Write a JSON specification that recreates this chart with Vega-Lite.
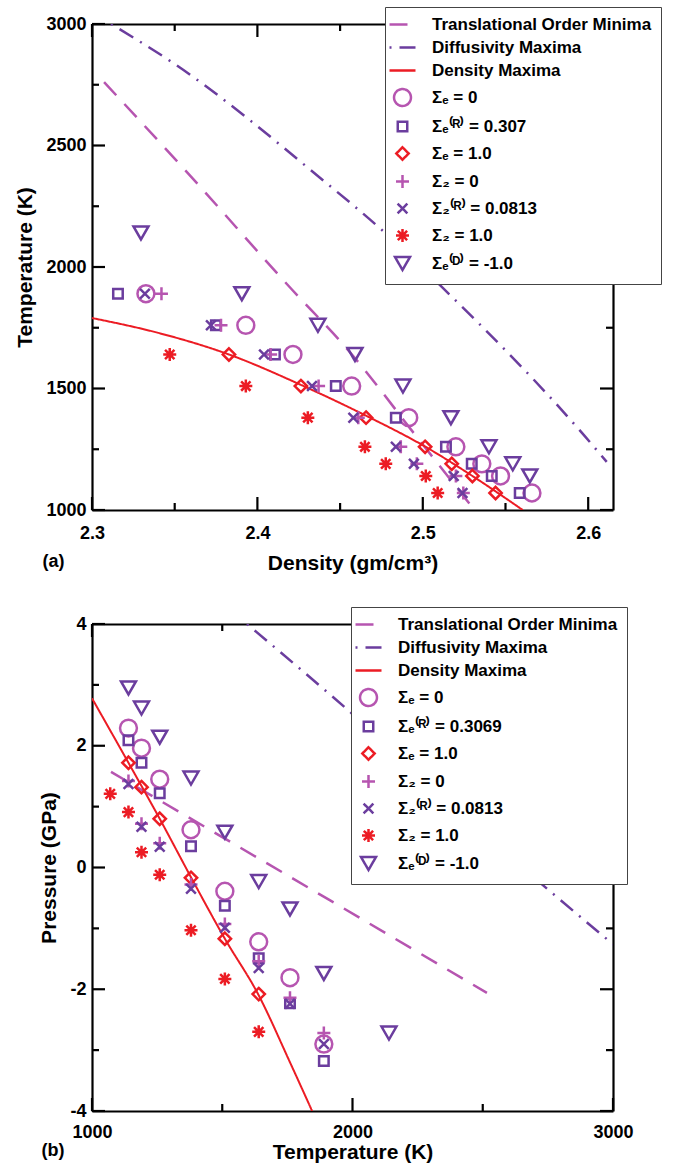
{
"$schema": "https://vega.github.io/schema/vega-lite/v6.json",
"background": "white",
"padding": {"left": 14, "top": 6, "right": 4, "bottom": 2},
"spacing": 33,
"datasets": {
"la": [
{"series":"Translational Order Minima","density":2.3073,"temperature":2761},
{"series":"Translational Order Minima","density":2.36,"temperature":2371},
{"series":"Translational Order Minima","density":2.4178,"temperature":1930},
{"series":"Translational Order Minima","density":2.4565,"temperature":1645},
{"series":"Translational Order Minima","density":2.4976,"temperature":1290},
{"series":"Translational Order Minima","density":2.5308,"temperature":1004},
{"series":"Diffusivity Maxima","density":2.3115,"temperature":3000},
{"series":"Diffusivity Maxima","density":2.3483,"temperature":2843},
{"series":"Diffusivity Maxima","density":2.4402,"temperature":2354},
{"series":"Diffusivity Maxima","density":2.474,"temperature":2160},
{"series":"Diffusivity Maxima","density":2.5115,"temperature":1918},
{"series":"Diffusivity Maxima","density":2.5973,"temperature":1309},
{"series":"Diffusivity Maxima","density":2.6112,"temperature":1198},
{"series":"Density Maxima","density":2.3,"temperature":1790},
{"series":"Density Maxima","density":2.34,"temperature":1729},
{"series":"Density Maxima","density":2.3828,"temperature":1640},
{"series":"Density Maxima","density":2.4263,"temperature":1515},
{"series":"Density Maxima","density":2.4657,"temperature":1388},
{"series":"Density Maxima","density":2.5014,"temperature":1261},
{"series":"Density Maxima","density":2.53,"temperature":1140},
{"series":"Density Maxima","density":2.5604,"temperature":1000}
],
"pa": [
{"series":"Σₑ = 0","density":2.3326,"temperature":1890},
{"series":"Σₑ = 0","density":2.393,"temperature":1760},
{"series":"Σₑ = 0","density":2.4215,"temperature":1640},
{"series":"Σₑ = 0","density":2.457,"temperature":1510},
{"series":"Σₑ = 0","density":2.4915,"temperature":1380},
{"series":"Σₑ = 0","density":2.52,"temperature":1260},
{"series":"Σₑ = 0","density":2.5357,"temperature":1190},
{"series":"Σₑ = 0","density":2.547,"temperature":1140},
{"series":"Σₑ = 0","density":2.566,"temperature":1070},
{"series":"Σₑ⁽ᴿ⁾ = 0.307","density":2.3157,"temperature":1890},
{"series":"Σₑ⁽ᴿ⁾ = 0.307","density":2.3749,"temperature":1760},
{"series":"Σₑ⁽ᴿ⁾ = 0.307","density":2.4106,"temperature":1640},
{"series":"Σₑ⁽ᴿ⁾ = 0.307","density":2.4474,"temperature":1510},
{"series":"Σₑ⁽ᴿ⁾ = 0.307","density":2.4837,"temperature":1380},
{"series":"Σₑ⁽ᴿ⁾ = 0.307","density":2.514,"temperature":1260},
{"series":"Σₑ⁽ᴿ⁾ = 0.307","density":2.5296,"temperature":1190},
{"series":"Σₑ⁽ᴿ⁾ = 0.307","density":2.5417,"temperature":1140},
{"series":"Σₑ⁽ᴿ⁾ = 0.307","density":2.5586,"temperature":1070},
{"series":"Σₑ = 1.0","density":2.3828,"temperature":1640},
{"series":"Σₑ = 1.0","density":2.4263,"temperature":1510},
{"series":"Σₑ = 1.0","density":2.4657,"temperature":1380},
{"series":"Σₑ = 1.0","density":2.5014,"temperature":1260},
{"series":"Σₑ = 1.0","density":2.5175,"temperature":1190},
{"series":"Σₑ = 1.0","density":2.53,"temperature":1140},
{"series":"Σₑ = 1.0","density":2.544,"temperature":1070},
{"series":"Σ₂ = 0","density":2.342,"temperature":1890},
{"series":"Σ₂ = 0","density":2.378,"temperature":1760},
{"series":"Σ₂ = 0","density":2.408,"temperature":1640},
{"series":"Σ₂ = 0","density":2.437,"temperature":1510},
{"series":"Σ₂ = 0","density":2.461,"temperature":1380},
{"series":"Σ₂ = 0","density":2.4867,"temperature":1260},
{"series":"Σ₂ = 0","density":2.4964,"temperature":1190},
{"series":"Σ₂ = 0","density":2.52,"temperature":1140},
{"series":"Σ₂ = 0","density":2.5245,"temperature":1070},
{"series":"Σ₂⁽ᴿ⁾ = 0.0813","density":2.332,"temperature":1890},
{"series":"Σ₂⁽ᴿ⁾ = 0.0813","density":2.3719,"temperature":1760},
{"series":"Σ₂⁽ᴿ⁾ = 0.0813","density":2.404,"temperature":1640},
{"series":"Σ₂⁽ᴿ⁾ = 0.0813","density":2.433,"temperature":1510},
{"series":"Σ₂⁽ᴿ⁾ = 0.0813","density":2.458,"temperature":1380},
{"series":"Σ₂⁽ᴿ⁾ = 0.0813","density":2.4837,"temperature":1260},
{"series":"Σ₂⁽ᴿ⁾ = 0.0813","density":2.4946,"temperature":1190},
{"series":"Σ₂⁽ᴿ⁾ = 0.0813","density":2.5187,"temperature":1140},
{"series":"Σ₂⁽ᴿ⁾ = 0.0813","density":2.524,"temperature":1070},
{"series":"Σ₂ = 1.0","density":2.347,"temperature":1640},
{"series":"Σ₂ = 1.0","density":2.393,"temperature":1510},
{"series":"Σ₂ = 1.0","density":2.4305,"temperature":1380},
{"series":"Σ₂ = 1.0","density":2.465,"temperature":1260},
{"series":"Σ₂ = 1.0","density":2.4776,"temperature":1190},
{"series":"Σ₂ = 1.0","density":2.5018,"temperature":1140},
{"series":"Σ₂ = 1.0","density":2.509,"temperature":1070},
{"series":"Σₑ⁽ᴰ⁾ = -1.0","density":2.3296,"temperature":2140},
{"series":"Σₑ⁽ᴰ⁾ = -1.0","density":2.3906,"temperature":1890},
{"series":"Σₑ⁽ᴰ⁾ = -1.0","density":2.4366,"temperature":1760},
{"series":"Σₑ⁽ᴰ⁾ = -1.0","density":2.459,"temperature":1640},
{"series":"Σₑ⁽ᴰ⁾ = -1.0","density":2.488,"temperature":1510},
{"series":"Σₑ⁽ᴰ⁾ = -1.0","density":2.517,"temperature":1380},
{"series":"Σₑ⁽ᴰ⁾ = -1.0","density":2.54,"temperature":1260},
{"series":"Σₑ⁽ᴰ⁾ = -1.0","density":2.5544,"temperature":1190},
{"series":"Σₑ⁽ᴰ⁾ = -1.0","density":2.5647,"temperature":1140}
],
"ta_xmaj": [{"density":2.3},{"density":2.4},{"density":2.5},{"density":2.6}],
"ta_xmin": [{"density":2.35},{"density":2.45},{"density":2.55}],
"ta_ymaj": [{"temperature":1000},{"temperature":1500},{"temperature":2000},{"temperature":2500},{"temperature":3000}],
"ta_ymin": [{"temperature":1250},{"temperature":1750},{"temperature":2250},{"temperature":2750}],
"lb": [
{"series":"Translational Order Minima","temperature":1073,"pressure":1.57},
{"series":"Translational Order Minima","temperature":1500,"pressure":0.5},
{"series":"Translational Order Minima","temperature":1906,"pressure":-0.52},
{"series":"Translational Order Minima","temperature":2516,"pressure":-2.06},
{"series":"Diffusivity Maxima","temperature":1595,"pressure":4.0},
{"series":"Diffusivity Maxima","temperature":1925,"pressure":2.8},
{"series":"Diffusivity Maxima","temperature":2750,"pressure":-0.36},
{"series":"Diffusivity Maxima","temperature":3000,"pressure":-1.26},
{"series":"Density Maxima","temperature":1000,"pressure":2.78},
{"series":"Density Maxima","temperature":1140,"pressure":1.72},
{"series":"Density Maxima","temperature":1260,"pressure":0.8},
{"series":"Density Maxima","temperature":1380,"pressure":-0.16},
{"series":"Density Maxima","temperature":1510,"pressure":-1.17},
{"series":"Density Maxima","temperature":1640,"pressure":-2.1},
{"series":"Density Maxima","temperature":1760,"pressure":-3.2},
{"series":"Density Maxima","temperature":1845,"pressure":-4.0}
],
"pb": [
{"series":"Σₑ = 0","temperature":1140,"pressure":2.29},
{"series":"Σₑ = 0","temperature":1190,"pressure":1.96},
{"series":"Σₑ = 0","temperature":1260,"pressure":1.45},
{"series":"Σₑ = 0","temperature":1380,"pressure":0.62},
{"series":"Σₑ = 0","temperature":1510,"pressure":-0.39},
{"series":"Σₑ = 0","temperature":1640,"pressure":-1.22},
{"series":"Σₑ = 0","temperature":1760,"pressure":-1.81},
{"series":"Σₑ = 0","temperature":1890,"pressure":-2.9},
{"series":"Σₑ⁽ᴿ⁾ = 0.3069","temperature":1140,"pressure":2.09},
{"series":"Σₑ⁽ᴿ⁾ = 0.3069","temperature":1190,"pressure":1.72},
{"series":"Σₑ⁽ᴿ⁾ = 0.3069","temperature":1260,"pressure":1.22},
{"series":"Σₑ⁽ᴿ⁾ = 0.3069","temperature":1380,"pressure":0.35},
{"series":"Σₑ⁽ᴿ⁾ = 0.3069","temperature":1510,"pressure":-0.63},
{"series":"Σₑ⁽ᴿ⁾ = 0.3069","temperature":1640,"pressure":-1.49},
{"series":"Σₑ⁽ᴿ⁾ = 0.3069","temperature":1760,"pressure":-2.23},
{"series":"Σₑ⁽ᴿ⁾ = 0.3069","temperature":1890,"pressure":-3.18},
{"series":"Σₑ = 1.0","temperature":1140,"pressure":1.72},
{"series":"Σₑ = 1.0","temperature":1190,"pressure":1.32},
{"series":"Σₑ = 1.0","temperature":1260,"pressure":0.8},
{"series":"Σₑ = 1.0","temperature":1380,"pressure":-0.17},
{"series":"Σₑ = 1.0","temperature":1510,"pressure":-1.17},
{"series":"Σₑ = 1.0","temperature":1640,"pressure":-2.08},
{"series":"Σ₂ = 0","temperature":1140,"pressure":1.42},
{"series":"Σ₂ = 0","temperature":1190,"pressure":0.72},
{"series":"Σ₂ = 0","temperature":1260,"pressure":0.4},
{"series":"Σ₂ = 0","temperature":1380,"pressure":-0.28},
{"series":"Σ₂ = 0","temperature":1510,"pressure":-0.93},
{"series":"Σ₂ = 0","temperature":1640,"pressure":-1.54},
{"series":"Σ₂ = 0","temperature":1760,"pressure":-2.14},
{"series":"Σ₂ = 0","temperature":1890,"pressure":-2.72},
{"series":"Σ₂⁽ᴿ⁾ = 0.0813","temperature":1140,"pressure":1.37},
{"series":"Σ₂⁽ᴿ⁾ = 0.0813","temperature":1190,"pressure":0.67},
{"series":"Σ₂⁽ᴿ⁾ = 0.0813","temperature":1260,"pressure":0.34},
{"series":"Σ₂⁽ᴿ⁾ = 0.0813","temperature":1380,"pressure":-0.35},
{"series":"Σ₂⁽ᴿ⁾ = 0.0813","temperature":1510,"pressure":-0.99},
{"series":"Σ₂⁽ᴿ⁾ = 0.0813","temperature":1640,"pressure":-1.65},
{"series":"Σ₂⁽ᴿ⁾ = 0.0813","temperature":1760,"pressure":-2.24},
{"series":"Σ₂⁽ᴿ⁾ = 0.0813","temperature":1890,"pressure":-2.9},
{"series":"Σ₂ = 1.0","temperature":1070,"pressure":1.21},
{"series":"Σ₂ = 1.0","temperature":1140,"pressure":0.91},
{"series":"Σ₂ = 1.0","temperature":1190,"pressure":0.25},
{"series":"Σ₂ = 1.0","temperature":1260,"pressure":-0.12},
{"series":"Σ₂ = 1.0","temperature":1380,"pressure":-1.03},
{"series":"Σ₂ = 1.0","temperature":1510,"pressure":-1.83},
{"series":"Σ₂ = 1.0","temperature":1640,"pressure":-2.7},
{"series":"Σₑ⁽ᴰ⁾ = -1.0","temperature":1140,"pressure":2.95},
{"series":"Σₑ⁽ᴰ⁾ = -1.0","temperature":1190,"pressure":2.62},
{"series":"Σₑ⁽ᴰ⁾ = -1.0","temperature":1260,"pressure":2.14},
{"series":"Σₑ⁽ᴰ⁾ = -1.0","temperature":1380,"pressure":1.47},
{"series":"Σₑ⁽ᴰ⁾ = -1.0","temperature":1510,"pressure":0.58},
{"series":"Σₑ⁽ᴰ⁾ = -1.0","temperature":1640,"pressure":-0.23},
{"series":"Σₑ⁽ᴰ⁾ = -1.0","temperature":1760,"pressure":-0.68},
{"series":"Σₑ⁽ᴰ⁾ = -1.0","temperature":1890,"pressure":-1.74},
{"series":"Σₑ⁽ᴰ⁾ = -1.0","temperature":2140,"pressure":-2.72}
],
"tb_xmaj": [{"temperature":1000},{"temperature":2000},{"temperature":3000}],
"tb_xmin": [{"temperature":1500},{"temperature":2500}],
"tb_ymaj": [{"pressure":-4},{"pressure":-2},{"pressure":0},{"pressure":2},{"pressure":4}],
"tb_ymin": [{"pressure":-3},{"pressure":-1},{"pressure":1},{"pressure":3}]
},
"resolve": {
"scale": {"x":"independent","y":"independent","color":"independent","shape":"independent","strokeDash":"independent"},
"legend": {"color":"independent","shape":"independent","strokeDash":"independent"}
},
"vconcat": [
{
"width": 521, "height": 486,
"resolve": {"axis": {"x":"independent","y":"independent"}},
"layer": [
{
"data": {"name":"la"},
"transform": [{"filter": {"field":"series","oneOf":["Translational Order Minima","Diffusivity Maxima"]}}],
"mark": {"type":"line","strokeWidth":2.5,"interpolate":"monotone","clip":true},
"encoding": {
"x": {"field":"density","type":"quantitative","scale":{"domain":[2.3,2.615],"nice":false,"zero":false},
 "axis":{"orient":"bottom","values":[2.3,2.4,2.5,2.6],"format":".1f","ticks":false,"labelPadding":14,"title":"Density (gm/cm³)","titlePadding":10}},
"y": {"field":"temperature","type":"quantitative","scale":{"domain":[1000,3000],"nice":false,"zero":false},
 "axis":{"orient":"left","values":[1000,1500,2000,2500,3000],"format":"d","ticks":false,"labelPadding":6,"title":"Temperature (K)","titlePadding":10}},
"color": {"field":"series","type":"nominal","scale":{"domain":["Translational Order Minima","Diffusivity Maxima","Density Maxima","Σₑ = 0","Σₑ⁽ᴿ⁾ = 0.307","Σₑ = 1.0","Σ₂ = 0","Σ₂⁽ᴿ⁾ = 0.0813","Σ₂ = 1.0","Σₑ⁽ᴰ⁾ = -1.0"],"range":["#b655b0","#6b3d9e","#ec1c24","#b655b0","#6b3d9e","#ec1c24","#b655b0","#6b3d9e","#ec1c24","#6b3d9e"]},
 "legend":{"title":null,"orient":"none","legendX":293,"legendY":-17}},
"strokeDash": {"field":"series","type":"nominal","scale":{"domain":["Translational Order Minima","Diffusivity Maxima","Density Maxima","Σₑ = 0","Σₑ⁽ᴿ⁾ = 0.307","Σₑ = 1.0","Σ₂ = 0","Σ₂⁽ᴿ⁾ = 0.0813","Σ₂ = 1.0","Σₑ⁽ᴰ⁾ = -1.0"],"range":[[18,12],[2,8,16,8],[1,0],[1,0],[1,0],[1,0],[1,0],[1,0],[1,0],[1,0]]},
 "legend":{"title":null,"orient":"none","legendX":293,"legendY":-17}}
}
},
{
"data": {"name":"la"},
"transform": [{"filter": {"field":"series","equal":"Density Maxima"}}],
"mark": {"type":"line","strokeWidth":2,"interpolate":"monotone","clip":true},
"encoding": {
"x": {"field":"density","type":"quantitative","scale":{"domain":[2.3,2.615],"nice":false,"zero":false},
 "axis":{"orient":"top","values":[2.3,2.4,2.5,2.6],"labels":false,"ticks":false,"domain":true,"title":null}},
"y": {"field":"temperature","type":"quantitative","scale":{"domain":[1000,3000],"nice":false,"zero":false},
 "axis":{"orient":"right","values":[1000,1500,2000,2500,3000],"labels":false,"ticks":false,"domain":true,"title":null}},
"color": {"field":"series","type":"nominal","scale":{"domain":["Translational Order Minima","Diffusivity Maxima","Density Maxima","Σₑ = 0","Σₑ⁽ᴿ⁾ = 0.307","Σₑ = 1.0","Σ₂ = 0","Σ₂⁽ᴿ⁾ = 0.0813","Σ₂ = 1.0","Σₑ⁽ᴰ⁾ = -1.0"],"range":["#b655b0","#6b3d9e","#ec1c24","#b655b0","#6b3d9e","#ec1c24","#b655b0","#6b3d9e","#ec1c24","#6b3d9e"]},
 "legend":{"title":null,"orient":"none","legendX":293,"legendY":-17}},
"strokeDash": {"field":"series","type":"nominal","scale":{"domain":["Translational Order Minima","Diffusivity Maxima","Density Maxima","Σₑ = 0","Σₑ⁽ᴿ⁾ = 0.307","Σₑ = 1.0","Σ₂ = 0","Σ₂⁽ᴿ⁾ = 0.0813","Σ₂ = 1.0","Σₑ⁽ᴰ⁾ = -1.0"],"range":[[18,12],[2,8,16,8],[1,0],[1,0],[1,0],[1,0],[1,0],[1,0],[1,0],[1,0]]},
 "legend":{"title":null,"orient":"none","legendX":293,"legendY":-17}}
}
},
{
"data": {"name":"pa"},
"transform": [{"filter": {"field":"series","oneOf":["Σₑ = 0","Σₑ⁽ᴿ⁾ = 0.307","Σₑ = 1.0","Σ₂ = 0"]}}],
"mark": {"type":"point","filled":false,"size":169,"strokeWidth":2.5,"opacity":1},
"encoding": {
"x": {"field":"density","type":"quantitative","scale":{"domain":[2.3,2.615],"nice":false,"zero":false},
 "axis":{"orient":"bottom","values":[2.35],"labels":false,"ticks":false,"domain":false,"title":"(a)","titleAnchor":"start","titleAlign":"left","titleBaseline":"middle","titleX":-50,"titleY":51,"titleFontSize":18}},
"y": {"field":"temperature","type":"quantitative","scale":{"domain":[1000,3000],"nice":false,"zero":false},"axis":null},
"color": {"field":"series","type":"nominal","scale":{"domain":["Translational Order Minima","Diffusivity Maxima","Density Maxima","Σₑ = 0","Σₑ⁽ᴿ⁾ = 0.307","Σₑ = 1.0","Σ₂ = 0","Σ₂⁽ᴿ⁾ = 0.0813","Σ₂ = 1.0","Σₑ⁽ᴰ⁾ = -1.0"],"range":["#b655b0","#6b3d9e","#ec1c24","#b655b0","#6b3d9e","#ec1c24","#b655b0","#6b3d9e","#ec1c24","#6b3d9e"]},
 "legend":{"title":null,"orient":"none","legendX":293,"legendY":-17}},
"shape": {"field":"series","type":"nominal","scale":{"domain":["Translational Order Minima","Diffusivity Maxima","Density Maxima","Σₑ = 0","Σₑ⁽ᴿ⁾ = 0.307","Σₑ = 1.0","Σ₂ = 0","Σ₂⁽ᴿ⁾ = 0.0813","Σ₂ = 1.0","Σₑ⁽ᴰ⁾ = -1.0"],"range":["M-2,0H2","M-2,0H2","M-2,0H2","M1.3,0C1.3,0.72,0.72,1.3,0,1.3C-0.72,1.3,-1.3,0.72,-1.3,0C-1.3,-0.72,-0.72,-1.3,0,-1.3C0.72,-1.3,1.3,-0.72,1.3,0Z","M-0.73,-0.73H0.73V0.73H-0.73Z","M0,-0.95L0.95,0L0,0.95L-0.95,0Z","M-1,0H1M0,-1V1","M-0.75,-0.75L0.75,0.75M-0.75,0.75L0.75,-0.75","M-1,0H1M0,-1V1M-0.72,-0.72L0.72,0.72M-0.72,0.72L0.72,-0.72","M-1.15,-1H1.15L0,1Z"]},
 "legend":{"title":null,"orient":"none","legendX":293,"legendY":-17}}
}
},
{
"data": {"name":"pa"},
"transform": [{"filter": {"field":"series","oneOf":["Σ₂⁽ᴿ⁾ = 0.0813","Σ₂ = 1.0","Σₑ⁽ᴰ⁾ = -1.0"]}}],
"mark": {"type":"point","filled":false,"size":169,"strokeWidth":2.5,"opacity":1},
"encoding": {
"x": {"field":"density","type":"quantitative","scale":{"domain":[2.3,2.615],"nice":false,"zero":false},"axis":null},
"y": {"field":"temperature","type":"quantitative","scale":{"domain":[1000,3000],"nice":false,"zero":false},"axis":null},
"color": {"field":"series","type":"nominal","scale":{"domain":["Translational Order Minima","Diffusivity Maxima","Density Maxima","Σₑ = 0","Σₑ⁽ᴿ⁾ = 0.307","Σₑ = 1.0","Σ₂ = 0","Σ₂⁽ᴿ⁾ = 0.0813","Σ₂ = 1.0","Σₑ⁽ᴰ⁾ = -1.0"],"range":["#b655b0","#6b3d9e","#ec1c24","#b655b0","#6b3d9e","#ec1c24","#b655b0","#6b3d9e","#ec1c24","#6b3d9e"]},
 "legend":{"title":null,"orient":"none","legendX":293,"legendY":-17}},
"shape": {"field":"series","type":"nominal","scale":{"domain":["Translational Order Minima","Diffusivity Maxima","Density Maxima","Σₑ = 0","Σₑ⁽ᴿ⁾ = 0.307","Σₑ = 1.0","Σ₂ = 0","Σ₂⁽ᴿ⁾ = 0.0813","Σ₂ = 1.0","Σₑ⁽ᴰ⁾ = -1.0"],"range":["M-2,0H2","M-2,0H2","M-2,0H2","M1.3,0C1.3,0.72,0.72,1.3,0,1.3C-0.72,1.3,-1.3,0.72,-1.3,0C-1.3,-0.72,-0.72,-1.3,0,-1.3C0.72,-1.3,1.3,-0.72,1.3,0Z","M-0.73,-0.73H0.73V0.73H-0.73Z","M0,-0.95L0.95,0L0,0.95L-0.95,0Z","M-1,0H1M0,-1V1","M-0.75,-0.75L0.75,0.75M-0.75,0.75L0.75,-0.75","M-1,0H1M0,-1V1M-0.72,-0.72L0.72,0.72M-0.72,0.72L0.72,-0.72","M-1.15,-1H1.15L0,1Z"]},
 "legend":{"title":null,"orient":"none","legendX":293,"legendY":-17}}
}
},
{"data":{"name":"ta_xmaj"},"mark":{"type":"rule","strokeWidth":2.2,"color":"#000","y2Offset":-13},
 "encoding":{"x":{"field":"density","type":"quantitative","scale":{"domain":[2.3,2.615],"nice":false,"zero":false},"axis":null},"y":{"datum":1000,"type":"quantitative","scale":{"domain":[1000,3000],"nice":false,"zero":false},"axis":null},"y2":{"datum":1000}}},
{"data":{"name":"ta_xmaj"},"mark":{"type":"rule","strokeWidth":2.2,"color":"#000","y2Offset":13},
 "encoding":{"x":{"field":"density","type":"quantitative","scale":{"domain":[2.3,2.615],"nice":false,"zero":false},"axis":null},"y":{"datum":3000,"type":"quantitative","scale":{"domain":[1000,3000],"nice":false,"zero":false},"axis":null},"y2":{"datum":3000}}},
{"data":{"name":"ta_xmin"},"mark":{"type":"rule","strokeWidth":2.2,"color":"#000","y2Offset":-7},
 "encoding":{"x":{"field":"density","type":"quantitative","scale":{"domain":[2.3,2.615],"nice":false,"zero":false},"axis":null},"y":{"datum":1000,"type":"quantitative","scale":{"domain":[1000,3000],"nice":false,"zero":false},"axis":null},"y2":{"datum":1000}}},
{"data":{"name":"ta_xmin"},"mark":{"type":"rule","strokeWidth":2.2,"color":"#000","y2Offset":7},
 "encoding":{"x":{"field":"density","type":"quantitative","scale":{"domain":[2.3,2.615],"nice":false,"zero":false},"axis":null},"y":{"datum":3000,"type":"quantitative","scale":{"domain":[1000,3000],"nice":false,"zero":false},"axis":null},"y2":{"datum":3000}}},
{"data":{"name":"ta_ymaj"},"mark":{"type":"rule","strokeWidth":2.2,"color":"#000","x2Offset":13},
 "encoding":{"y":{"field":"temperature","type":"quantitative","scale":{"domain":[1000,3000],"nice":false,"zero":false},"axis":null},"x":{"datum":2.3,"type":"quantitative","scale":{"domain":[2.3,2.615],"nice":false,"zero":false},"axis":null},"x2":{"datum":2.3}}},
{"data":{"name":"ta_ymaj"},"mark":{"type":"rule","strokeWidth":2.2,"color":"#000","x2Offset":-13},
 "encoding":{"y":{"field":"temperature","type":"quantitative","scale":{"domain":[1000,3000],"nice":false,"zero":false},"axis":null},"x":{"datum":2.615,"type":"quantitative","scale":{"domain":[2.3,2.615],"nice":false,"zero":false},"axis":null},"x2":{"datum":2.615}}},
{"data":{"name":"ta_ymin"},"mark":{"type":"rule","strokeWidth":2.2,"color":"#000","x2Offset":7},
 "encoding":{"y":{"field":"temperature","type":"quantitative","scale":{"domain":[1000,3000],"nice":false,"zero":false},"axis":null},"x":{"datum":2.3,"type":"quantitative","scale":{"domain":[2.3,2.615],"nice":false,"zero":false},"axis":null},"x2":{"datum":2.3}}},
{"data":{"name":"ta_ymin"},"mark":{"type":"rule","strokeWidth":2.2,"color":"#000","x2Offset":-7},
 "encoding":{"y":{"field":"temperature","type":"quantitative","scale":{"domain":[1000,3000],"nice":false,"zero":false},"axis":null},"x":{"datum":2.615,"type":"quantitative","scale":{"domain":[2.3,2.615],"nice":false,"zero":false},"axis":null},"x2":{"datum":2.615}}}
]
},
{
"width": 521, "height": 487,
"resolve": {"axis": {"x":"independent","y":"independent"}},
"layer": [
{
"data": {"name":"lb"},
"transform": [{"filter": {"field":"series","oneOf":["Translational Order Minima","Diffusivity Maxima"]}}],
"mark": {"type":"line","strokeWidth":2.5,"interpolate":"monotone","clip":true},
"encoding": {
"x": {"field":"temperature","type":"quantitative","scale":{"domain":[1000,3000],"nice":false,"zero":false},
 "axis":{"orient":"bottom","values":[1000,2000,3000],"format":"d","ticks":false,"labelPadding":12,"title":"Temperature (K)","titlePadding":0}},
"y": {"field":"pressure","type":"quantitative","scale":{"domain":[-4,4],"nice":false,"zero":false},
 "axis":{"orient":"left","values":[-4,-2,0,2,4],"labelExpr":"'' + datum.value","ticks":false,"labelPadding":6,"title":"Pressure (GPa)","titlePadding":10}},
"color": {"field":"series","type":"nominal","scale":{"domain":["Translational Order Minima","Diffusivity Maxima","Density Maxima","Σₑ = 0","Σₑ⁽ᴿ⁾ = 0.3069","Σₑ = 1.0","Σ₂ = 0","Σ₂⁽ᴿ⁾ = 0.0813","Σ₂ = 1.0","Σₑ⁽ᴰ⁾ = -1.0"],"range":["#b655b0","#6b3d9e","#ec1c24","#b655b0","#6b3d9e","#ec1c24","#b655b0","#6b3d9e","#ec1c24","#6b3d9e"]},
 "legend":{"title":null,"orient":"none","legendX":259,"legendY":-17}},
"strokeDash": {"field":"series","type":"nominal","scale":{"domain":["Translational Order Minima","Diffusivity Maxima","Density Maxima","Σₑ = 0","Σₑ⁽ᴿ⁾ = 0.3069","Σₑ = 1.0","Σ₂ = 0","Σ₂⁽ᴿ⁾ = 0.0813","Σ₂ = 1.0","Σₑ⁽ᴰ⁾ = -1.0"],"range":[[18,12],[2,8,16,8],[1,0],[1,0],[1,0],[1,0],[1,0],[1,0],[1,0],[1,0]]},
 "legend":{"title":null,"orient":"none","legendX":259,"legendY":-17}}
}
},
{
"data": {"name":"lb"},
"transform": [{"filter": {"field":"series","equal":"Density Maxima"}}],
"mark": {"type":"line","strokeWidth":2,"interpolate":"monotone","clip":true},
"encoding": {
"x": {"field":"temperature","type":"quantitative","scale":{"domain":[1000,3000],"nice":false,"zero":false},
 "axis":{"orient":"top","values":[1000,2000,3000],"labels":false,"ticks":false,"domain":true,"title":null}},
"y": {"field":"pressure","type":"quantitative","scale":{"domain":[-4,4],"nice":false,"zero":false},
 "axis":{"orient":"right","values":[-4,-2,0,2,4],"labels":false,"ticks":false,"domain":true,"title":null}},
"color": {"field":"series","type":"nominal","scale":{"domain":["Translational Order Minima","Diffusivity Maxima","Density Maxima","Σₑ = 0","Σₑ⁽ᴿ⁾ = 0.3069","Σₑ = 1.0","Σ₂ = 0","Σ₂⁽ᴿ⁾ = 0.0813","Σ₂ = 1.0","Σₑ⁽ᴰ⁾ = -1.0"],"range":["#b655b0","#6b3d9e","#ec1c24","#b655b0","#6b3d9e","#ec1c24","#b655b0","#6b3d9e","#ec1c24","#6b3d9e"]},
 "legend":{"title":null,"orient":"none","legendX":259,"legendY":-17}},
"strokeDash": {"field":"series","type":"nominal","scale":{"domain":["Translational Order Minima","Diffusivity Maxima","Density Maxima","Σₑ = 0","Σₑ⁽ᴿ⁾ = 0.3069","Σₑ = 1.0","Σ₂ = 0","Σ₂⁽ᴿ⁾ = 0.0813","Σ₂ = 1.0","Σₑ⁽ᴰ⁾ = -1.0"],"range":[[18,12],[2,8,16,8],[1,0],[1,0],[1,0],[1,0],[1,0],[1,0],[1,0],[1,0]]},
 "legend":{"title":null,"orient":"none","legendX":259,"legendY":-17}}
}
},
{
"data": {"name":"pb"},
"transform": [{"filter": {"field":"series","oneOf":["Σₑ = 0","Σₑ⁽ᴿ⁾ = 0.3069","Σₑ = 1.0","Σ₂ = 0"]}}],
"mark": {"type":"point","filled":false,"size":169,"strokeWidth":2.5,"opacity":1},
"encoding": {
"x": {"field":"temperature","type":"quantitative","scale":{"domain":[1000,3000],"nice":false,"zero":false},
 "axis":{"orient":"bottom","values":[1500],"labels":false,"ticks":false,"domain":false,"title":"(b)","titleAnchor":"start","titleAlign":"left","titleBaseline":"middle","titleX":-51,"titleY":39,"titleFontSize":18}},
"y": {"field":"pressure","type":"quantitative","scale":{"domain":[-4,4],"nice":false,"zero":false},"axis":null},
"color": {"field":"series","type":"nominal","scale":{"domain":["Translational Order Minima","Diffusivity Maxima","Density Maxima","Σₑ = 0","Σₑ⁽ᴿ⁾ = 0.3069","Σₑ = 1.0","Σ₂ = 0","Σ₂⁽ᴿ⁾ = 0.0813","Σ₂ = 1.0","Σₑ⁽ᴰ⁾ = -1.0"],"range":["#b655b0","#6b3d9e","#ec1c24","#b655b0","#6b3d9e","#ec1c24","#b655b0","#6b3d9e","#ec1c24","#6b3d9e"]},
 "legend":{"title":null,"orient":"none","legendX":259,"legendY":-17}},
"shape": {"field":"series","type":"nominal","scale":{"domain":["Translational Order Minima","Diffusivity Maxima","Density Maxima","Σₑ = 0","Σₑ⁽ᴿ⁾ = 0.3069","Σₑ = 1.0","Σ₂ = 0","Σ₂⁽ᴿ⁾ = 0.0813","Σ₂ = 1.0","Σₑ⁽ᴰ⁾ = -1.0"],"range":["M-2,0H2","M-2,0H2","M-2,0H2","M1.3,0C1.3,0.72,0.72,1.3,0,1.3C-0.72,1.3,-1.3,0.72,-1.3,0C-1.3,-0.72,-0.72,-1.3,0,-1.3C0.72,-1.3,1.3,-0.72,1.3,0Z","M-0.73,-0.73H0.73V0.73H-0.73Z","M0,-0.95L0.95,0L0,0.95L-0.95,0Z","M-1,0H1M0,-1V1","M-0.75,-0.75L0.75,0.75M-0.75,0.75L0.75,-0.75","M-1,0H1M0,-1V1M-0.72,-0.72L0.72,0.72M-0.72,0.72L0.72,-0.72","M-1.15,-1H1.15L0,1Z"]},
 "legend":{"title":null,"orient":"none","legendX":259,"legendY":-17}}
}
},
{
"data": {"name":"pb"},
"transform": [{"filter": {"field":"series","oneOf":["Σ₂⁽ᴿ⁾ = 0.0813","Σ₂ = 1.0","Σₑ⁽ᴰ⁾ = -1.0"]}}],
"mark": {"type":"point","filled":false,"size":169,"strokeWidth":2.5,"opacity":1},
"encoding": {
"x": {"field":"temperature","type":"quantitative","scale":{"domain":[1000,3000],"nice":false,"zero":false},"axis":null},
"y": {"field":"pressure","type":"quantitative","scale":{"domain":[-4,4],"nice":false,"zero":false},"axis":null},
"color": {"field":"series","type":"nominal","scale":{"domain":["Translational Order Minima","Diffusivity Maxima","Density Maxima","Σₑ = 0","Σₑ⁽ᴿ⁾ = 0.3069","Σₑ = 1.0","Σ₂ = 0","Σ₂⁽ᴿ⁾ = 0.0813","Σ₂ = 1.0","Σₑ⁽ᴰ⁾ = -1.0"],"range":["#b655b0","#6b3d9e","#ec1c24","#b655b0","#6b3d9e","#ec1c24","#b655b0","#6b3d9e","#ec1c24","#6b3d9e"]},
 "legend":{"title":null,"orient":"none","legendX":259,"legendY":-17}},
"shape": {"field":"series","type":"nominal","scale":{"domain":["Translational Order Minima","Diffusivity Maxima","Density Maxima","Σₑ = 0","Σₑ⁽ᴿ⁾ = 0.3069","Σₑ = 1.0","Σ₂ = 0","Σ₂⁽ᴿ⁾ = 0.0813","Σ₂ = 1.0","Σₑ⁽ᴰ⁾ = -1.0"],"range":["M-2,0H2","M-2,0H2","M-2,0H2","M1.3,0C1.3,0.72,0.72,1.3,0,1.3C-0.72,1.3,-1.3,0.72,-1.3,0C-1.3,-0.72,-0.72,-1.3,0,-1.3C0.72,-1.3,1.3,-0.72,1.3,0Z","M-0.73,-0.73H0.73V0.73H-0.73Z","M0,-0.95L0.95,0L0,0.95L-0.95,0Z","M-1,0H1M0,-1V1","M-0.75,-0.75L0.75,0.75M-0.75,0.75L0.75,-0.75","M-1,0H1M0,-1V1M-0.72,-0.72L0.72,0.72M-0.72,0.72L0.72,-0.72","M-1.15,-1H1.15L0,1Z"]},
 "legend":{"title":null,"orient":"none","legendX":259,"legendY":-17}}
}
},
{"data":{"name":"tb_xmaj"},"mark":{"type":"rule","strokeWidth":2.2,"color":"#000","y2Offset":-13},
 "encoding":{"x":{"field":"temperature","type":"quantitative","scale":{"domain":[1000,3000],"nice":false,"zero":false},"axis":null},"y":{"datum":-4,"type":"quantitative","scale":{"domain":[-4,4],"nice":false,"zero":false},"axis":null},"y2":{"datum":-4}}},
{"data":{"name":"tb_xmaj"},"mark":{"type":"rule","strokeWidth":2.2,"color":"#000","y2Offset":13},
 "encoding":{"x":{"field":"temperature","type":"quantitative","scale":{"domain":[1000,3000],"nice":false,"zero":false},"axis":null},"y":{"datum":4,"type":"quantitative","scale":{"domain":[-4,4],"nice":false,"zero":false},"axis":null},"y2":{"datum":4}}},
{"data":{"name":"tb_xmin"},"mark":{"type":"rule","strokeWidth":2.2,"color":"#000","y2Offset":-7},
 "encoding":{"x":{"field":"temperature","type":"quantitative","scale":{"domain":[1000,3000],"nice":false,"zero":false},"axis":null},"y":{"datum":-4,"type":"quantitative","scale":{"domain":[-4,4],"nice":false,"zero":false},"axis":null},"y2":{"datum":-4}}},
{"data":{"name":"tb_xmin"},"mark":{"type":"rule","strokeWidth":2.2,"color":"#000","y2Offset":7},
 "encoding":{"x":{"field":"temperature","type":"quantitative","scale":{"domain":[1000,3000],"nice":false,"zero":false},"axis":null},"y":{"datum":4,"type":"quantitative","scale":{"domain":[-4,4],"nice":false,"zero":false},"axis":null},"y2":{"datum":4}}},
{"data":{"name":"tb_ymaj"},"mark":{"type":"rule","strokeWidth":2.2,"color":"#000","x2Offset":13},
 "encoding":{"y":{"field":"pressure","type":"quantitative","scale":{"domain":[-4,4],"nice":false,"zero":false},"axis":null},"x":{"datum":1000,"type":"quantitative","scale":{"domain":[1000,3000],"nice":false,"zero":false},"axis":null},"x2":{"datum":1000}}},
{"data":{"name":"tb_ymaj"},"mark":{"type":"rule","strokeWidth":2.2,"color":"#000","x2Offset":-13},
 "encoding":{"y":{"field":"pressure","type":"quantitative","scale":{"domain":[-4,4],"nice":false,"zero":false},"axis":null},"x":{"datum":3000,"type":"quantitative","scale":{"domain":[1000,3000],"nice":false,"zero":false},"axis":null},"x2":{"datum":3000}}},
{"data":{"name":"tb_ymin"},"mark":{"type":"rule","strokeWidth":2.2,"color":"#000","x2Offset":7},
 "encoding":{"y":{"field":"pressure","type":"quantitative","scale":{"domain":[-4,4],"nice":false,"zero":false},"axis":null},"x":{"datum":1000,"type":"quantitative","scale":{"domain":[1000,3000],"nice":false,"zero":false},"axis":null},"x2":{"datum":1000}}},
{"data":{"name":"tb_ymin"},"mark":{"type":"rule","strokeWidth":2.2,"color":"#000","x2Offset":-7},
 "encoding":{"y":{"field":"pressure","type":"quantitative","scale":{"domain":[-4,4],"nice":false,"zero":false},"axis":null},"x":{"datum":3000,"type":"quantitative","scale":{"domain":[1000,3000],"nice":false,"zero":false},"axis":null},"x2":{"datum":3000}}}
]
}
],
"config": {
"font": "Liberation Sans",
"view": {"stroke": null},
"axis": {"domainColor":"#000","domainWidth":2.2,"grid":false,"labelFont":"Liberation Sans","labelFontWeight":"bold","labelFontSize":18,"labelColor":"#000","titleFont":"Liberation Sans","titleFontWeight":"bold","titleFontSize":21,"titleColor":"#000","labelFlush":false,"labelOverlap":false},
"legend": {"labelFont":"Liberation Sans","labelFontWeight":"bold","labelFontSize":17,"labelColor":"#000","symbolStrokeWidth":2.5,"symbolSize":169,"padding":9,"strokeColor":"#444","fillColor":"#fff","labelLimit":500,"rowPadding":5,"labelOffset":21,"symbolFillColor":"transparent"}
}
}
